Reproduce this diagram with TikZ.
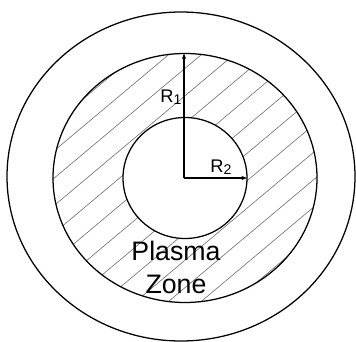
\documentclass[tikz,border=0pt]{standalone}
\usepackage{fontspec}
\setmainfont{Liberation Sans}
\usetikzlibrary{positioning, arrows.meta}

\newcommand{\subidx}[1]{{\fontsize{10}{12}\selectfont\raisebox{-0.25ex}{#1}}}

\begin{document}
\begin{tikzpicture}[
    x=0.025cm, y=-0.025cm,
    wall/.style={line width=0.9pt},
    hatch/.style={line width=0.4pt, black!60},
    radline/.style={line width=0.9pt, -{Stealth[length=4pt,width=3pt]}},
    lbl/.style={font=\fontsize{13}{15}\selectfont, inner sep=1pt},
    zone/.style={font=\fontsize{19}{23.5}\selectfont, align=center, inner sep=0pt}
]

    \def\cx{185}    % centre
    \def\cy{178}
    \def\rmx{132}   % plasma zone outer edge
    \def\rmy{124.5}
    \def\rix{62}    % inner hole
    \def\riy{60.5}

    \useasboundingbox (0,0) rectangle (356,342);

    % outer wall
    \draw[wall] (181,176.5) ellipse [x radius=174, y radius=164.5];

    % hatching of the plasma zone
    \begin{scope}[even odd rule]
        \clip (\cx,\cy) ellipse [x radius=\rmx, y radius=\rmy]
              (\cx,\cy) ellipse [x radius=\rix, y radius=\riy];
        \foreach \k in {-8,...,8}
            \draw[hatch] (\cx,\cy) ++(50:{\k*21}) ++(-40:-200) -- ++(-40:400);
    \end{scope}

    % ring edges
    \draw[wall] (\cx,\cy) ellipse [x radius=\rmx, y radius=\rmy];
    \draw[wall] (\cx,\cy) ellipse [x radius=\rix, y radius=\riy];

    % radii
    \coordinate (c) at (184,178);
    \coordinate (r1end) at (184,53.5);
    \coordinate (r2end) at (247,178);
    \draw[radline] (c) -- (r1end);
    \draw[radline] (c) -- (r2end);

    \node[lbl] (r1) at (171,97) {R\subidx{1}};
    \node[lbl] (r2) at (221,167) {R\subidx{2}};
    \node[zone] (plasma) at (176,267) {Plasma\\Zone};
\end{tikzpicture}
\end{document}
